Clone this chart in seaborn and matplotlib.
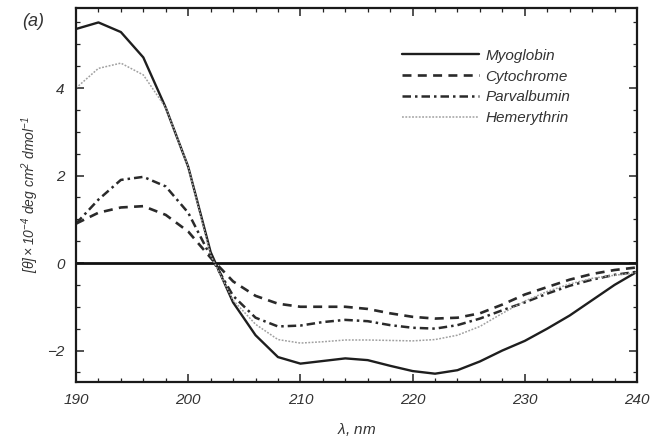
import numpy as np
import pandas as pd
import matplotlib
matplotlib.use("Agg")
import matplotlib.pyplot as plt
import seaborn as sns
from matplotlib.ticker import MultipleLocator

wavelength = [190, 192, 194, 196, 198, 200, 202, 204, 206, 208, 210, 212, 214,
              216, 218, 220, 222, 224, 226, 228, 230, 232, 234, 236, 238, 240]
myoglobin = [5.35, 5.50, 5.28, 4.70, 3.55, 2.20, 0.25, -0.90, -1.65, -2.15, -2.30, -2.24, -2.18,
             -2.22, -2.35, -2.47, -2.53, -2.45, -2.25, -2.00, -1.78, -1.50, -1.20, -0.85, -0.50, -0.20]
cytochrome = [0.90, 1.15, 1.27, 1.30, 1.10, 0.72, 0.12, -0.42, -0.75, -0.93, -1.00, -1.00, -1.00,
              -1.05, -1.15, -1.23, -1.27, -1.25, -1.15, -0.95, -0.72, -0.55, -0.38, -0.25, -0.16, -0.10]
parvalbumin = [0.90, 1.45, 1.90, 1.97, 1.75, 1.15, 0.15, -0.75, -1.25, -1.45, -1.43, -1.35, -1.30,
               -1.33, -1.42, -1.48, -1.50, -1.42, -1.27, -1.08, -0.90, -0.70, -0.52, -0.38, -0.27, -0.20]
hemerythrin = [4.00, 4.45, 4.57, 4.30, 3.55, 2.20, 0.18, -0.85, -1.40, -1.75, -1.83, -1.80, -1.76,
               -1.76, -1.77, -1.78, -1.75, -1.65, -1.45, -1.15, -0.87, -0.65, -0.48, -0.35, -0.28, -0.22]
series_names = ["Myoglobin", "Cytochrome", "Parvalbumin", "Hemerythrin"]

sns.set_theme(style="ticks")
plt.rcParams["font.family"] = ["Liberation Sans", "DejaVu Sans"]
plt.rcParams["font.style"] = "italic"
plt.rcParams["mathtext.fontset"] = "custom"
plt.rcParams["mathtext.rm"] = "Liberation Sans:italic"
plt.rcParams["mathtext.it"] = "Liberation Sans:italic"

fig = plt.figure(figsize=(6.54, 4.42), dpi=100)
ax = fig.add_axes([76/654, 1-382/442, (637-76)/654, (382-8)/442])

styles = {
    "Myoglobin": dict(color="#1e1e1e", lw=1.7, dashes=()),
    "Cytochrome": dict(color="#2a2a2a", lw=1.9, dashes=(3.4, 2.4)),
    "Parvalbumin": dict(color="#2a2a2a", lw=1.8, dashes=(3.4, 1.6, 1.0, 1.6)),
    "Hemerythrin": dict(color="#a0a0a0", lw=1.1, dashes=(1.2, 1.0)),
}
values = [myoglobin, cytochrome, parvalbumin, hemerythrin]
for name, vals in zip(series_names, values):
    df = pd.DataFrame({"x": wavelength, "y": vals})
    st = styles[name]
    sns.lineplot(data=df, x="x", y="y", ax=ax, color=st["color"], lw=st["lw"], label=name)
    ln = ax.get_lines()[-1]
    if st["dashes"]:
        ln.set_dashes(st["dashes"])

ax.axhline(0, color="#111111", lw=2.0, zorder=1)

ax.set_xlim(190, 240)
ax.set_ylim(-2.72, 5.83)
ax.xaxis.set_major_locator(MultipleLocator(10))
ax.xaxis.set_minor_locator(MultipleLocator(2))
ax.yaxis.set_major_locator(MultipleLocator(2))
ax.yaxis.set_minor_locator(MultipleLocator(0.5))
ax.tick_params(which="both", direction="in", top=True, right=True, colors="#222222",
               labelsize=11, labelcolor="#333333")
ax.tick_params(which="major", length=6, width=1.1, pad=8)
ax.tick_params(which="minor", length=3, width=0.9)
for sp in ax.spines.values():
    sp.set_linewidth(1.6)
    sp.set_color("#1a1a1a")

ax.set_xlabel(r"$\lambda$, nm", fontsize=11, color="#333333", labelpad=10)
ax.set_ylabel(r"$[\theta]\times10^{-4}$ deg cm$^{2}$ dmol$^{-1}$", fontsize=10,
              color="#333333", labelpad=5)

leg = ax.legend(loc="upper left", bbox_to_anchor=(0.557, 0.928), frameon=False,
                fontsize=11, handlelength=5.0, labelspacing=0.45, handletextpad=0.45)
for t in leg.get_texts():
    t.set_color("#333333")

fig.text(22/654, 1-22/442, "(a)", fontsize=13, color="#333333", ha="left", va="center")

fig.savefig("out.png", dpi=100)
